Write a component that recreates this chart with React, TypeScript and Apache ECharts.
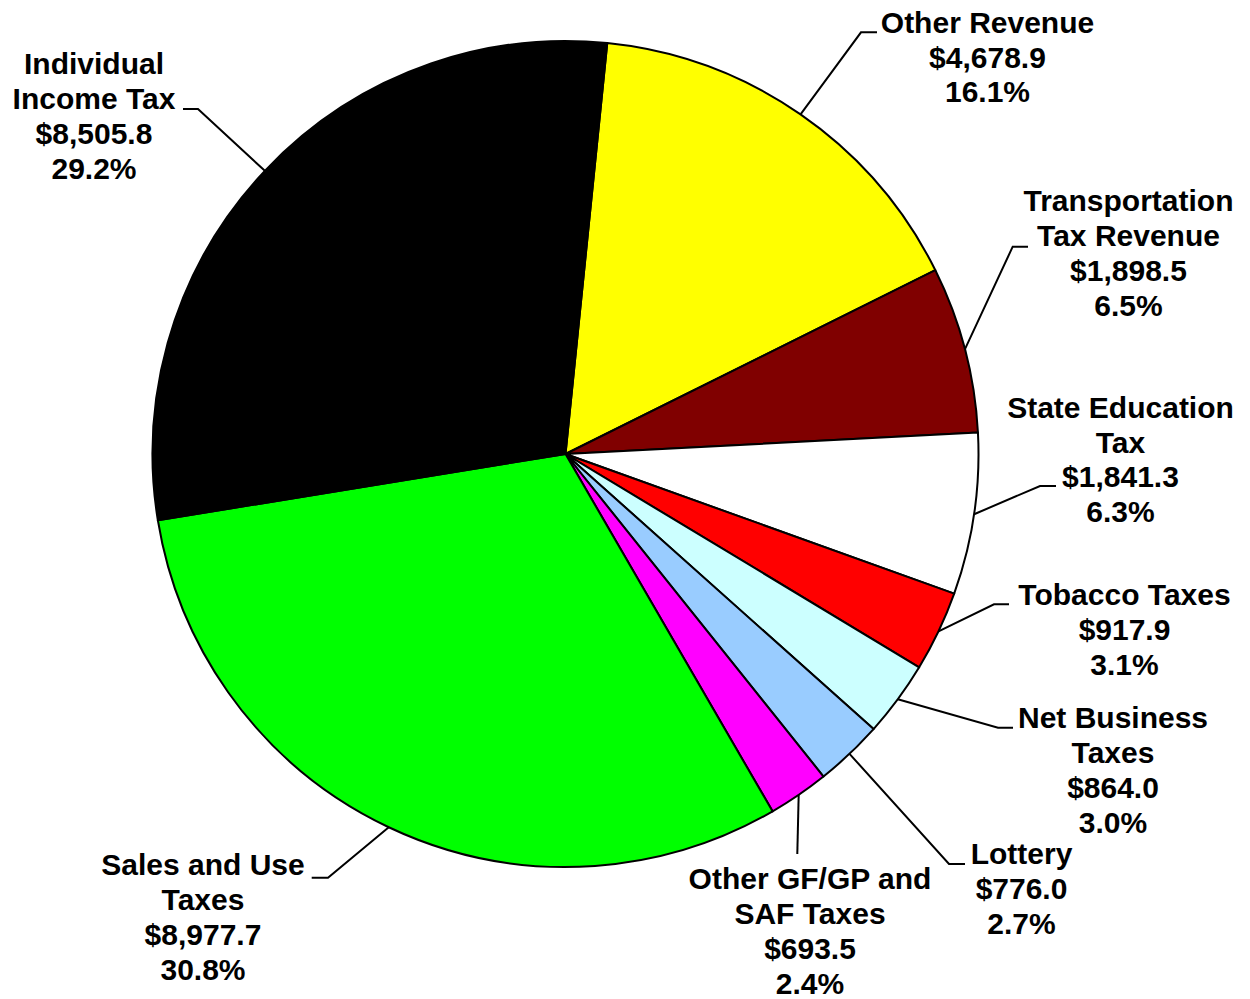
import React, { useEffect, useRef } from "react";
import * as echarts from "echarts";

const categories = [
  "Other Revenue",
  "Transportation\nTax Revenue",
  "State Education\nTax",
  "Tobacco Taxes",
  "Net Business\nTaxes",
  "Lottery",
  "Other GF/GP and\nSAF Taxes",
  "Sales and Use\nTaxes",
  "Individual\nIncome Tax",
];
const values = [4678.9, 1898.5, 1841.3, 917.9, 864.0, 776.0, 693.5, 8977.7, 8505.8];
const percents = [16.1, 6.5, 6.3, 3.1, 3.0, 2.7, 2.4, 30.8, 29.2];
const colors = ["#FFFF00", "#800000", "#FFFFFF", "#FF0000", "#CCFFFF", "#99CCFF", "#FF00FF", "#00FF00", "#000000"];

// label layout: [textX, textMidY, elbowX, elbowY, endX, endY]
const labelPos: number[][] = [
  [987.5, 57, 861, 32.3, 877, 32.3],
  [1128.5, 253, 1012.7, 246.7, 1028, 246.7],
  [1120.5, 459.5, 1040, 486, 1056, 486],
  [1124.5, 629.5, 994, 604.3, 1009, 604.3],
  [1113, 770, 998, 727.7, 1013, 727.7],
  [1021.5, 888.5, 949, 864, 965, 864],
  [810, 931, 797.3, 854, 797.3, 854],
  [203, 917, 328, 877.7, 311.7, 877.7],
  [94, 116, 198, 109, 183, 109],
];

const CX = 565.5;
const CY = 454;
const R = 413;
const START = 84.2;

export default function App() {
  const ref = useRef<HTMLDivElement>(null);
  useEffect(() => {
    if (!ref.current) return;
    const chart = echarts.init(ref.current, null, { renderer: "svg" });
    const total = values.reduce((a, b) => a + b, 0);
    const data = values.map((v, i) => ({
      name: categories[i],
      value: v,
      itemStyle: { color: colors[i] },
    }));
    chart.setOption({
      animation: false,
      backgroundColor: "#ffffff",
      series: [
        {
          type: "pie",
          center: [CX, CY],
          radius: [0, R],
          startAngle: START,
          clockwise: true,
          avoidLabelOverlap: false,
          data,
          itemStyle: { borderColor: "#000000", borderWidth: 2 },
          emphasis: { disabled: true },
          label: {
            show: true,
            position: "outside",
            color: "#000000",
            fontFamily: "'Liberation Sans', Arial, sans-serif",
            fontWeight: "bold",
            fontSize: 30,
            lineHeight: 34.7,
            align: "center",
            formatter: (p: any) =>
              p.name +
              "\n$" +
              Number(p.value).toLocaleString("en-US", { minimumFractionDigits: 1, maximumFractionDigits: 1 }) +
              "\n" +
              percents[p.dataIndex].toFixed(1) +
              "%",
          },
          labelLine: {
            show: true,
            smooth: false,
            lineStyle: { color: "#000000", width: 2 },
          },
          labelLayout: (params: any) => {
            const i = params.dataIndex;
            const lp = labelPos[i];
            let start: number[];
            if (params.labelLinePoints && params.labelLinePoints[0]) {
              start = params.labelLinePoints[0];
            } else {
              let acc = 0;
              for (let k = 0; k < i; k++) acc += values[k];
              const mid = ((START - ((acc + values[i] / 2) / total) * 360) * Math.PI) / 180;
              start = [CX + R * Math.cos(mid), CY - R * Math.sin(mid)];
            }
            return {
              x: lp[0],
              y: lp[1],
              align: "center",
              verticalAlign: "middle",
              labelLinePoints: [start, [lp[2], lp[3]], [lp[4], lp[5]]],
            };
          },
        },
      ],
    });
    return () => chart.dispose();
  }, []);
  return (
    <div
      ref={ref}
      style={{ position: "absolute", left: 0, top: 0, width: 1250, height: 999, background: "#fff" }}
    />
  );
}
